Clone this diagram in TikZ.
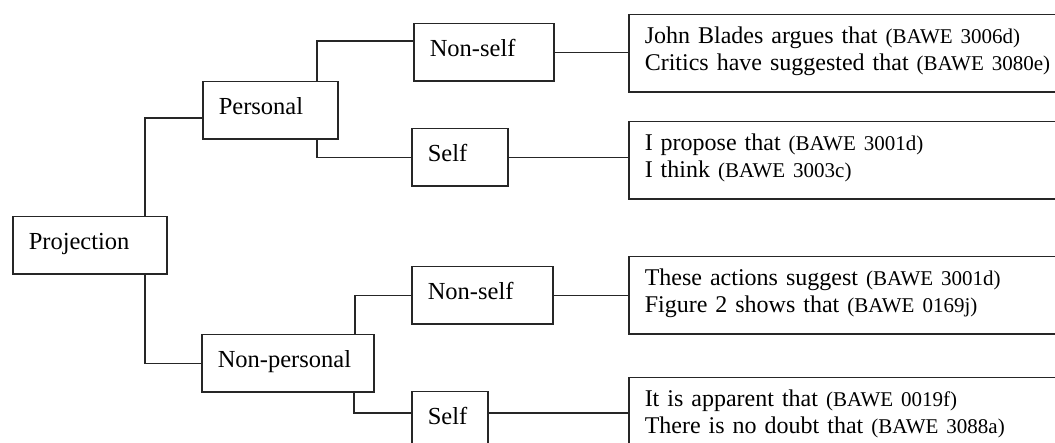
\documentclass[tikz,border=0pt]{standalone}
\usepackage{fontspec}
\setmainfont{Liberation Serif}
\usetikzlibrary{calc}
\newcommand\bawe[1]{{\fontsize{21}{27}\selectfont(BAWE #1)}}
\begin{document}
\begin{tikzpicture}[
  line width=1.5pt,
  conn/.style={draw=black!85, line width=1.5pt},
  lab/.style={draw=black!85, line width=1.5pt, rectangle, anchor=north west, inner xsep=16pt, inner ysep=0pt,
    text width=#1, text height=32.5pt, text depth=25pt, font=\fontsize{24.5}{27}\selectfont, align=left},
  ex/.style={draw=black!85, line width=1.5pt, rectangle, anchor=north west, inner xsep=16pt, inner ysep=0pt,
    text width=500pt, text height=28.5pt, text depth=49pt, font=\fontsize{24}{27}\selectfont, align=left},
]
\useasboundingbox (0,0) rectangle (1055pt,-443pt);
\fill[white] (0,0) rectangle (1055pt,-443pt);
\clip (0,0) rectangle (1055pt,-443pt);

\node[lab=122pt] (proj)  at (12pt,-216pt)  {Projection};
\node[lab=103pt] (pers)  at (202pt,-81pt)  {Personal};
\node[lab=140pt] (npers) at (201pt,-334pt) {Non-personal};
\node[lab=108pt] (ns1)   at (413pt,-23pt)  {Non-self};
\node[lab=64pt]  (s1)    at (411pt,-128pt) {Self};
\node[lab=109pt] (ns2)   at (411pt,-266pt) {Non-self};
\node[lab=44pt]  (s2)    at (411pt,-391pt) {Self};

\node[ex] (b1) at (628pt,-14pt)  {John Blades argues that \bawe{3006d}\\Critics have suggested that \bawe{3080e}};
\node[ex] (b2) at (628pt,-121pt) {I propose that \bawe{3001d}\\I think \bawe{3003c}};
\node[ex] (b3) at (628pt,-256pt) {These actions suggest \bawe{3001d}\\Figure 2 shows that \bawe{0169j}};
\node[ex] (b4) at (628pt,-377pt) {It is apparent that \bawe{0019f}\\There is no doubt that \bawe{3088a}};

\draw[conn] ($(proj.north west)+(133pt,0)$) |- ($(pers.north west)+(0,-37pt)$);
\draw[conn] ($(proj.south west)+(133pt,0)$) |- (npers.west);
\draw[conn] ($(pers.north west)+(115pt,0)$) |- ($(ns1.north west)+(0,-18pt)$);
\draw[conn] ($(pers.south west)+(115pt,0)$) |- (s1.west);
\draw[conn] ($(npers.north west)+(154pt,0)$) |- (ns2.west);
\draw[conn] ($(npers.south west)+(153pt,0)$) |- ($(s2.north west)+(0,-22pt)$);
\coordinate (s2o) at ($(s2.north east)+(0,-22pt)$);
\draw[conn] (ns1.east) -- (ns1.east -| b1.west);
\draw[conn] (s1.east) -- (s1.east -| b2.west);
\draw[conn] (ns2.east) -- (ns2.east -| b3.west);
\draw[conn] (s2o) -- (s2o -| b4.west);
\end{tikzpicture}
\end{document}
